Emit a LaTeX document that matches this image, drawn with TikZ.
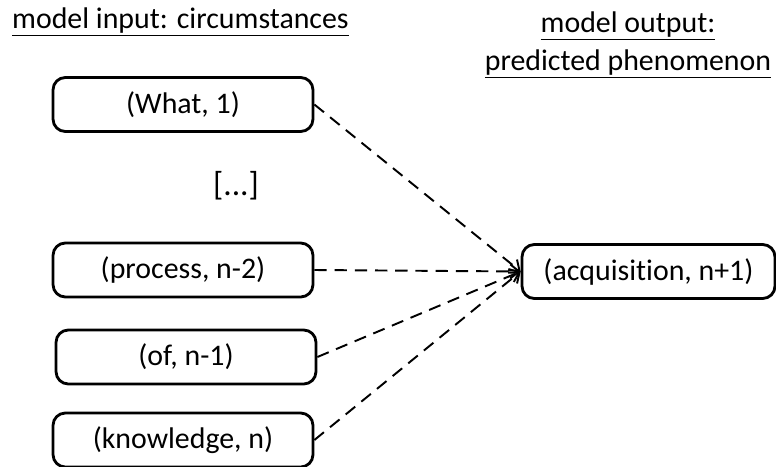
\documentclass[tikz,border=0pt]{standalone}
\usepackage{fontspec}
\setmainfont{Carlito}[Ligatures={NoCommon}]
\usepackage{tikz}
\usetikzlibrary{arrows.meta, positioning}

\tikzset{
    word/.style={draw, line width=1.6pt, rounded corners=7pt, minimum width=5.2cm,
        minimum height=1.08cm, inner sep=0pt},
    link/.style={dashed, line width=1.1pt, dash pattern=on 7pt off 4.5pt, -{Straight Barb[length=5pt,width=8pt]}}
}

\begin{document}
\begin{tikzpicture}[x=0.02cm, y=-0.02cm, font=\fontsize{17}{21.6}\selectfont]
        \useasboundingbox (0,0) rectangle (776,466);

        % titles
        \node[anchor=west] (intitle) at (6,22) {\underline{model input: circumstances}};
        \node[align=center] (outtitle) at (628,45) {\underline{model output:}\\\underline{predicted phenomenon}};

        % input words
        \node[word] (what) at (183,104.5) {(What, 1)};
        \node[font=\fontsize{19}{22}\selectfont] (dots) at (236,186) {[...]};
        \node[word] (process) at (183,270) {(process, n-2)};
        \node[word] (of) at (186,357) {(of, n-1)};
        \node[word] (knowledge) at (183,440) {(knowledge, n)};

        % output word
        \node[word, minimum width=5.06cm] (acq) at (648.5,271.5) {(acquisition, n+1)};

        \draw[link] (what.east) -- (acq.west);
        \draw[link] (process.east) -- (acq.west);
        \draw[link] (of.east) -- (acq.west);
        \draw[link] (knowledge.east) -- (acq.west);
    \end{tikzpicture}
\end{document}
